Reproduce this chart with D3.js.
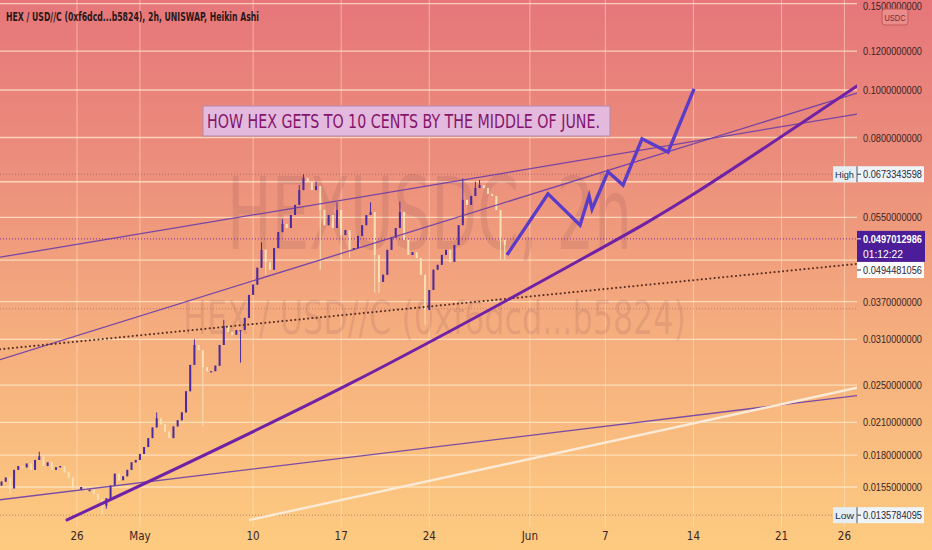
<!DOCTYPE html>
<html><head><meta charset="utf-8">
<script src="https://cdn.jsdelivr.net/npm/d3@7"></script>
<style>html,body{margin:0;padding:0;overflow:hidden;background:#f0a07c}</style>
</head><body><svg id="c" width="932" height="550"></svg>
<script>
// ---------------- DATA ----------------
const titleText = "HEX / USD//C (0xf6dcd...b5824), 2h, UNISWAP, Heikin Ashi";
const noteText = "HOW HEX GETS TO 10 CENTS BY THE MIDDLE OF JUNE.";
const watermarkBig = "HEXUSDC, 2h";
const watermarkSmall = "HEX / USD//C (0xf6dcd...b5824)";

const candleStart = "2021-04-20T00:00:00Z";
const candleStepHours = 8;
const firstOpen = 0.0156;
const closes = [
  0.0159,0.0162,0.0154,0.0168,0.0171,0.0170,0.0173,0.0168,0.0176,0.0179,
  0.0171,0.0174,0.0168,0.0170,0.0171,0.0166,0.0162,0.0154,0.0153,0.0155,
  0.0152,0.0153,0.0150,0.0146,0.0142,0.0147,0.0156,0.0165,0.0160,0.0163,
  0.0168,0.0174,0.0176,0.0181,0.0187,0.0195,0.0205,0.0214,0.0208,0.0201,
  0.0195,0.0206,0.0212,0.0220,0.0243,0.0275,0.0302,0.0295,0.0272,0.0267,
  0.0267,0.0274,0.0302,0.0330,0.0321,0.0317,0.0324,0.0324,0.0343,0.0382,
  0.0401,0.0434,0.0472,0.0446,0.0430,0.0476,0.0513,0.0533,0.0523,0.0556,
  0.0583,0.0625,0.0661,0.0649,0.0625,0.0637,0.0569,0.0530,0.0556,0.0523,
  0.0569,0.0506,0.0518,0.0472,0.0476,0.0504,0.0530,0.0556,0.0564,0.0461,
  0.0406,0.0420,0.0472,0.0500,0.0523,0.0564,0.0495,0.0461,0.0467,0.0454,
  0.0420,0.0356,0.0391,0.0430,0.0440,0.0461,0.0472,0.0446,0.0483,0.0530,
  0.0597,0.0583,0.0608,0.0631,0.0640,0.0631,0.0614,0.0608,0.0569,0.0495,
  0.0483
];
const wickHighs = [[9,0.0183],[37,0.0220],[46,0.0310],[53,0.0340],[62,0.0489],[67,0.0545],
  [71,0.0640],[72,0.06733],[75,0.0650],[80,0.0590],[88,0.0590],[95,0.0592],[110,0.0660],
  [113,0.0650],[114,0.0655]];
const wickLows = [[2,0.0150],[24,0.013578],[25,0.0140],[48,0.0206],[57,0.0278],[63,0.0420],
  [76,0.0430],[81,0.0450],[83,0.0455],[89,0.0386],[90,0.0386],[101,0.0332],[119,0.0450],[120,0.0450]];

const yTicks = [0.15,0.12,0.10,0.08,0.065,0.055,0.045,0.037,0.031,0.025,0.021,0.018,0.0155];
const yTickLabelled = [0.15,0.12,0.10,0.08,0.055,0.037,0.031,0.025,0.021,0.018,0.0155];
const xTickDates = ["2021-04-26","2021-05-01","2021-05-10","2021-05-17","2021-05-24",
                    "2021-06-01","2021-06-07","2021-06-14","2021-06-21","2021-06-26"];
const xTickLabels = ["26","May","10","17","24","Jun","7","14","21","26"];

const upperLine   = [["2021-04-19T21:06:00Z",0.0456],["2021-06-27T00:00:00Z",0.0893]];
const channelLine = [["2021-04-19T21:06:00Z",0.0282],["2021-06-27T00:00:00Z",0.0986]];
const dottedLine  = [["2021-04-19T21:06:00Z",0.0296],["2021-06-27T00:00:00Z",0.0442]];
const lowerLine   = [["2021-04-19T21:06:00Z",0.0146],["2021-06-27T00:00:00Z",0.0238]];
const creamLine   = [["2021-05-09T18:00:00Z",0.01328],["2021-06-27T00:00:00Z",0.0247]];
const supportCurve = [["2021-04-25T04:55:00Z",0.01328],["2021-05-17T11:00:00Z",0.0250],
  ["2021-06-04T23:40:00Z",0.0450],["2021-06-14T12:30:00Z",0.0625],["2021-06-27T00:00:00Z",0.1019]];
const forecast = [["2021-05-30T04:20:00Z",0.0461],["2021-06-02T10:33:00Z",0.0614],
  ["2021-06-04T23:40:00Z",0.0530],["2021-06-05T16:48:00Z",0.0608],["2021-06-05T22:33:00Z",0.0572],
  ["2021-06-07T05:02:00Z",0.0681],["2021-06-08T09:36:00Z",0.0640],["2021-06-09T21:50:00Z",0.0795],
  ["2021-06-11T23:31:00Z",0.0747],["2021-06-14T01:12:00Z",0.1005]];

const highValue = 0.0673343598, lowValue = 0.0135784095;
const lastPrice = 0.0497012986, countdown = "01:12:22";
const otherPrice = 0.0494481056;
const markerLevel = 0.0358;

// ---------------- CHART ----------------
const W = 932, H = 550, PR = 857, PB = 527;
const svg = d3.select("#c");
const defs = svg.append("defs");
const bg = defs.append("linearGradient").attr("id","bg").attr("x1",0).attr("y1",0).attr("x2",0).attr("y2",1);
[[0,"#e6767a"],[0.3,"#ec8e7c"],[0.6,"#f5ad7e"],[1,"#fdcb80"]].forEach(s=>bg.append("stop").attr("offset",s[0]).attr("stop-color",s[1]));
defs.append("clipPath").attr("id","plot").append("rect").attr("x",0).attr("y",0).attr("width",PR).attr("height",PB);
svg.append("rect").attr("width",W).attr("height",H).attr("fill","url(#bg)");

const FONT = "'DejaVu Sans Condensed','Liberation Sans',sans-serif";
const AXF = "'Liberation Sans','Arimo',sans-serif";
const LBLW = 59;
const x = d3.scaleUtc().domain([new Date("2021-04-19T21:06:00Z"), new Date("2021-06-27T00:00:00Z")]).range([0, PR]);
const y = d3.scaleLog().domain([0.1, 0.0155]).range([90, 487]);

const plot = svg.append("g").attr("clip-path","url(#plot)");

// grid
plot.append("g").selectAll("line").data(yTicks).join("line")
  .attr("x1",0).attr("x2",PR).attr("y1",d=>y(d)).attr("y2",d=>y(d))
  .attr("stroke","rgba(255,236,206,0.75)").attr("stroke-width",1.3);
plot.append("g").selectAll("line").data(xTickDates).join("line")
  .attr("x1",d=>x(new Date(d+"T00:00:00Z"))).attr("x2",d=>x(new Date(d+"T00:00:00Z")))
  .attr("y1",0).attr("y2",PB)
  .attr("stroke","rgba(255,236,206,0.5)").attr("stroke-width",1);

// watermark
plot.append("text").attr("x",227).attr("y",249).attr("font-family",FONT).attr("font-size",100)
  .attr("textLength",405).attr("lengthAdjust","spacingAndGlyphs")
  .attr("fill","rgba(110,55,70,0.13)").text(watermarkBig);
plot.append("text").attr("x",183).attr("y",334).attr("font-family",FONT).attr("font-size",46)
  .attr("textLength",503).attr("lengthAdjust","spacingAndGlyphs")
  .attr("fill","rgba(110,55,70,0.13)").text(watermarkSmall);

// horizontal dotted price levels
function hDotted(p, color, dash, w){
  plot.append("line").attr("x1",0).attr("x2",PR).attr("y1",y(p)).attr("y2",y(p))
    .attr("stroke",color).attr("stroke-width",w||1).attr("stroke-dasharray",dash);
}
hDotted(highValue,"rgba(120,80,80,0.55)","1,2");
hDotted(lowValue,"rgba(120,80,80,0.55)","1,2");
hDotted(markerLevel,"rgba(120,80,80,0.45)","1,2");

// candles
const t0 = new Date(candleStart).getTime();
const hiMap = new Map(wickHighs), loMap = new Map(wickLows);
const candles = closes.map((c,i)=>{
  const o = i===0 ? firstOpen : closes[i-1];
  const h = Math.max(o,c, hiMap.get(i)||0);
  const l = Math.min(o,c, loMap.get(i)||1);
  return {t:new Date(t0 + i*candleStepHours*3600e3), o, c, h, l, up: c>=o};
});
const UP = "#4a2a9e", DOWN = "#f6e0b6";
const cg = plot.append("g");
cg.selectAll("line").data(candles).join("line")
  .attr("x1",d=>x(d.t)).attr("x2",d=>x(d.t)).attr("y1",d=>y(d.h)).attr("y2",d=>y(d.l))
  .attr("stroke",d=>d.up?UP:DOWN).attr("stroke-width",1);
cg.selectAll("rect").data(candles).join("rect")
  .attr("x",d=>x(d.t)-1).attr("width",2)
  .attr("y",d=>y(Math.max(d.o,d.c)))
  .attr("height",d=>Math.max(1.2, Math.abs(y(d.o)-y(d.c))))
  .attr("fill",d=>d.up?UP:DOWN);

// last price dotted line
hDotted(lastPrice,"#7a2aa8","1,2",1);

// trend lines
const lineGen = d3.line().x(d=>x(new Date(d[0]))).y(d=>y(d[1]));
function drawLine(data,color,width,dash,curve){
  const g = curve ? d3.line().x(d=>x(new Date(d[0]))).y(d=>y(d[1])).curve(curve) : lineGen;
  plot.append("path").attr("d",g(data)).attr("fill","none").attr("stroke",color)
    .attr("stroke-width",width).attr("stroke-dasharray",dash||null).attr("stroke-linecap","round");
}
drawLine(upperLine,"rgba(100,55,170,0.85)",1.3);
drawLine(channelLine,"rgba(100,55,170,0.85)",1.3);
drawLine(lowerLine,"rgba(100,55,170,0.85)",1.3);
drawLine(creamLine,"#fbead6",2.4);
drawLine(dottedLine,"#5a2e22",2,"0.1,4.2");
drawLine(supportCurve,"#6f22a6",3,null,d3.curveNatural);
plot.append("path").attr("d",lineGen(forecast)).attr("fill","none").attr("stroke","#5b3cc8")
  .attr("stroke-width",3.4).attr("stroke-linejoin","miter").attr("stroke-linecap","butt");

// note box
const nb = svg.append("g");
nb.append("rect").attr("x",203).attr("y",106).attr("width",407).attr("height",30)
  .attr("fill","#e3b9de").attr("stroke","#b48aa8").attr("stroke-width",1);
nb.append("text").attr("x",207).attr("y",128).attr("font-family",FONT).attr("font-size",19)
  .attr("textLength",393).attr("lengthAdjust","spacingAndGlyphs")
  .attr("fill","#86156a").text(noteText);

// title
svg.append("text").attr("x",6).attr("y",21).attr("font-family",FONT).attr("font-size",12.5)
  .attr("textLength",253).attr("lengthAdjust","spacingAndGlyphs")
  .attr("fill","#2a1818").attr("font-weight","bold").text(titleText);

// right axis labels
const fmt = d3.format(".10f");
function priceText(sel){
  return sel.attr("font-family",AXF).attr("font-size",10.5)
    .attr("textLength",LBLW).attr("lengthAdjust","spacingAndGlyphs");
}
priceText(svg.append("g").selectAll("text").data(yTickLabelled).join("text")
  .attr("x",863).attr("y",d=>Math.max(y(d)+4,10)))
  .attr("fill","#3a2424").text(d=>fmt(d));

// bottom axis labels
svg.append("g").selectAll("text").data(xTickDates).join("text")
  .attr("x",d=>x(new Date(d+"T00:00:00Z"))).attr("y",540).attr("text-anchor","middle")
  .attr("font-family",FONT).attr("font-size",11.5).attr("fill","#3a2424")
  .text((d,i)=>xTickLabels[i]);

// USDC badge
svg.append("rect").attr("x",882).attr("y",9).attr("width",26).attr("height",16).attr("rx",3)
  .attr("fill","#ea8c8a").attr("stroke","#c45a5c").attr("stroke-width",1);
svg.append("text").attr("x",895).attr("y",21).attr("text-anchor","middle").attr("font-family",AXF)
  .attr("font-size",8.5).attr("textLength",21).attr("lengthAdjust","spacingAndGlyphs")
  .attr("fill","#7a2a30").text("USDC");

// High / Low tags
function tag(label, value, cy){
  svg.append("rect").attr("x",833).attr("y",cy-8).attr("width",24).attr("height",16).attr("fill","#e4eef4");
  svg.append("text").attr("x",835).attr("y",cy+4).attr("font-family",AXF)
    .attr("font-size",9.5).attr("textLength",19).attr("lengthAdjust","spacingAndGlyphs")
    .attr("fill","#2a3040").text(label);
  svg.append("rect").attr("x",857).attr("y",cy-8).attr("width",67).attr("height",16).attr("fill","#eef4f8");
  svg.append("line").attr("x1",857).attr("x2",861).attr("y1",cy).attr("y2",cy).attr("stroke","#333");
  svg.append("line").attr("x1",857).attr("x2",857).attr("y1",cy-8).attr("y2",cy+8).attr("stroke","#556");
  priceText(svg.append("text").attr("x",863).attr("y",cy+4)).attr("fill","#2a2a3a").text(fmt(value));
}
tag("High", highValue, y(highValue));
tag("Low", lowValue, y(lowValue));

// other price label (stacked below last price)
svg.append("rect").attr("x",857).attr("y",262).attr("width",67).attr("height",16).attr("fill","#fbfbfb");
svg.append("line").attr("x1",857).attr("x2",861).attr("y1",270).attr("y2",270).attr("stroke","#333");
priceText(svg.append("text").attr("x",863).attr("y",274)).attr("fill","#2a2a3a").text(fmt(otherPrice));

// last price label
const ly = y(lastPrice);
svg.append("rect").attr("x",857).attr("y",ly-8).attr("width",68).attr("height",31).attr("fill","#4c1d98");
svg.append("line").attr("x1",857).attr("x2",861).attr("y1",ly).attr("y2",ly).attr("stroke","#fff");
priceText(svg.append("text").attr("x",863).attr("y",ly+4)).attr("font-weight","bold")
  .attr("fill","#ffffff").text(fmt(lastPrice));
svg.append("text").attr("x",863).attr("y",ly+19).attr("font-family",AXF).attr("font-size",10.5)
  .attr("textLength",40).attr("lengthAdjust","spacingAndGlyphs")
  .attr("fill","#ffffff").text(countdown);
</script></body></html>
